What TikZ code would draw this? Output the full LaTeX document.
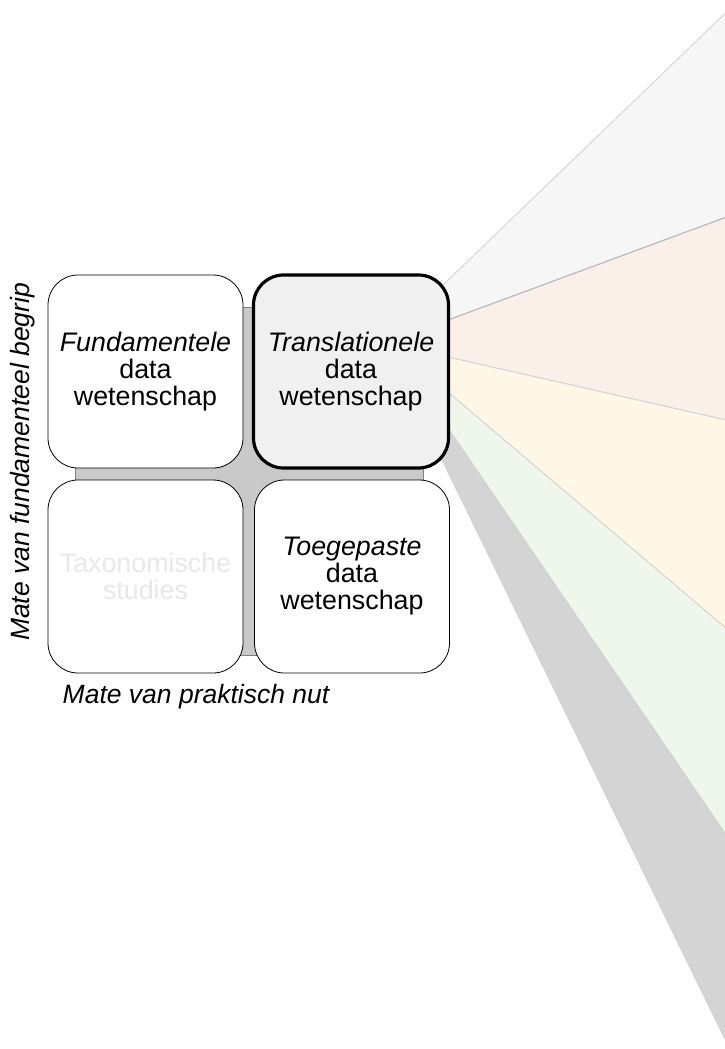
\documentclass[tikz,border=0pt]{standalone}
\usepackage{fontspec}
\setmainfont{Liberation Sans}

\definecolor{fanTop}{HTML}{F6F6F6}
\definecolor{fanPink}{HTML}{FAEFE9}
\definecolor{fanYellow}{HTML}{FFF7E6}
\definecolor{fanGreen}{HTML}{EFF6EB}
\definecolor{fanGrey}{HTML}{D4D4D4}

\tikzset{
  quad/.style={draw, fill=white, line width=0.8pt, rounded corners=30pt,
    minimum width=195pt, minimum height=193pt, align=center,
    font=\fontsize{26.8}{27}\selectfont},
  wedge/.style={draw=black!18, line width=0.8pt},
  axislabel/.style={font=\fontsize{26.5}{27}\selectfont\itshape}
}

\begin{document}
\begin{tikzpicture}[x=1pt,y=-1pt]
\useasboundingbox (0,0) rectangle (725,1049);
% fan leaving the translational box
\begin{scope}
\clip (0,0) rectangle (725,1049);
\filldraw[wedge, fill=fanGrey]   (442,460) -- (448,428) -- (740,855) -- (740,1070) -- cycle;
\filldraw[wedge, fill=fanGreen]  (448,392) -- (740,640) -- (740,855) -- (448,428) -- cycle;
\filldraw[wedge, fill=fanYellow] (448,357) -- (740,423) -- (740,640) -- (448,392) -- cycle;
\filldraw[wedge, fill=fanPink]   (448,320) -- (740,212) -- (740,423) -- (448,357) -- cycle;
\filldraw[wedge, fill=fanTop]    (443,285) -- (740,-1) -- (740,212) -- (448,320) -- cycle;
\draw[black!28, line width=1pt]  (448,320) -- (740,212);
\end{scope}
% grey square behind the four boxes
\filldraw[fill=black!21, draw=black!50] (75,307) rectangle (423,655);
\node[quad] (fund) at (145.5,371.5) {\textit{Fundamentele}\\data\\wetenschap};
\node[quad, fill=black!6, line width=3.2pt] (trans) at (351,371.5) {\textit{Translationele}\\data\\wetenschap};
\node[quad, text=black!9] (tax) at (145.5,576.5) {Taxonomische\\studies};
\node[quad] (toeg) at (352,576.5) {\textit{Toegepaste}\\data\\wetenschap};
% axes
\node[axislabel] (nut) at (196,697) {Mate van praktisch nut};
\node[axislabel, rotate=90] (begrip) at (23,462) {Mate van fundamenteel begrip};
\end{tikzpicture}
\end{document}
